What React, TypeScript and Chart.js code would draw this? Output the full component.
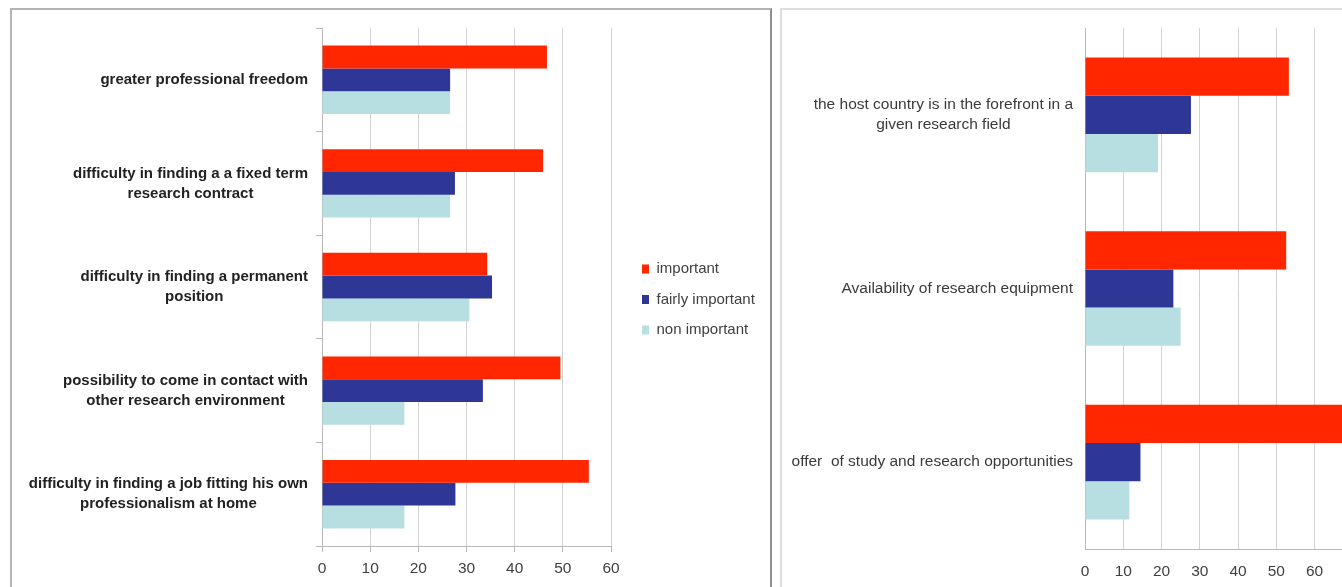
import React, { useEffect, useRef } from 'react';
import { Chart, registerables } from 'chart.js';

Chart.register(...registerables);

const FONT = "'Liberation Sans', Arial, Helvetica, sans-serif";

const seriesNames = ['important', 'fairly important', 'non important'];
const seriesColors = ['#FF2600', '#2E3696', '#B7DFE2'];

// Left chart
const leftCategories = [
  ['greater professional freedom'],
  ['difficulty in finding a a fixed term', 'research contract'],
  ['difficulty in finding a permanent', 'position'],
  ['possibility to come in contact with', 'other research environment'],
  ['difficulty in finding a job fitting his own', 'professionalism at home'],
];
const leftImportant = [46.7, 45.9, 34.3, 49.5, 55.4];
const leftFairly = [26.6, 27.6, 35.3, 33.4, 27.7];
const leftNon = [26.6, 26.6, 30.6, 17.1, 17.1];
const leftAxisMax = 60;

// Right chart
const rightCategories = [
  ['the host country is in the forefront in a', 'given research field'],
  ['Availability of research equipment'],
  ['offer  of study and research opportunities'],
];
const rightImportant = [53.3, 52.6, 72];
const rightFairly = [27.7, 23.1, 14.5];
const rightNon = [19.1, 25, 11.6];
const rightAxisMax = 80;

const tickStep = 10;

function makeDatasets(values: number[][]) {
  return values.map((v, i) => ({
    label: seriesNames[i],
    data: v,
    backgroundColor: seriesColors[i],
    borderWidth: 0,
    barPercentage: 1,
    categoryPercentage: 0.66,
  }));
}

function catLabelPlugin(font: string, color: string, lineHeight: number, gap: number) {
  return {
    id: 'catLabels',
    afterDraw(chart: any) {
      const ys = chart.scales.y;
      const ctx = chart.ctx;
      const labels = chart.data.labels as (string | string[])[];
      ctx.save();
      ctx.font = font;
      ctx.fillStyle = color;
      ctx.textAlign = 'center';
      ctx.textBaseline = 'middle';
      const right = chart.chartArea.left - gap;
      labels.forEach((lab, i) => {
        const lines = Array.isArray(lab) ? lab : [lab];
        const w = Math.max(...lines.map((l) => ctx.measureText(l).width));
        const cx = right - w / 2;
        const cy = ys.getPixelForValue(i);
        lines.forEach((l, j) => {
          ctx.fillText(l, cx, cy + (j - (lines.length - 1) / 2) * lineHeight);
        });
      });
      ctx.restore();
    },
  };
}

function legendPlacer(width: number, dx: number, dy: number) {
  return {
    id: 'legendPlacer',
    beforeLayout(chart: any) {
      const lg = chart.legend;
      if (lg && !lg.__fixed) {
        const orig = lg.fit;
        lg.fit = function () {
          orig.call(this);
          this.width = width;
        };
        lg.__fixed = true;
      }
    },
    afterLayout(chart: any) {
      const lg = chart.legend;
      if (!lg) return;
      lg.left += dx;
      lg.right += dx;
      lg.top += dy;
      lg.bottom += dy;
    },
  };
}

const W1 = 758;
const H1 = 577;
const W2 = 640;
const H2 = 577;

export default function App() {
  const ref1 = useRef<HTMLCanvasElement>(null);
  const ref2 = useRef<HTMLCanvasElement>(null);

  useEffect(() => {
    Chart.defaults.font.family = FONT;
    const c1 = new Chart(ref1.current as HTMLCanvasElement, {
      type: 'bar',
      data: {
        labels: leftCategories as any,
        datasets: makeDatasets([leftImportant, leftFairly, leftNon]) as any,
      },
      options: {
        indexAxis: 'y',
        animation: false,
        responsive: false,
        maintainAspectRatio: false,
        layout: { padding: { top: 18, left: 0, right: 0, bottom: 0 } },
        scales: {
          x: {
            min: 0,
            max: leftAxisMax,
            ticks: { stepSize: tickStep, font: { size: 15.5, family: FONT }, color: '#404040', padding: 7 },
            grid: { color: '#d2d2d2', tickLength: 6, drawTicks: true, tickColor: '#b8b8b8' },
            border: { color: '#b8b8b8' },
            afterFit(s: any) {
              s.height = 41;
            },
          },
          y: {
            ticks: { display: false },
            grid: { drawOnChartArea: false, tickLength: 6, color: '#b8b8b8', offset: true },
            border: { color: '#b8b8b8' },
            afterFit(s: any) {
              s.width = 310;
            },
          },
        },
        plugins: {
          legend: {
            position: 'right',
            labels: {
              boxWidth: 7,
              boxHeight: 9,
              padding: 15.5,
              font: { size: 15, family: FONT },
              color: '#404040',
            },
          },
          tooltip: { enabled: false },
        },
      } as any,
      plugins: [
        catLabelPlugin(`bold 15px ${FONT}`, '#222222', 20, 14) as any,
        legendPlacer(W1 - 599, 15.5, -8) as any,
      ],
    });

    const c2 = new Chart(ref2.current as HTMLCanvasElement, {
      type: 'bar',
      data: {
        labels: rightCategories as any,
        datasets: makeDatasets([rightImportant, rightFairly, rightNon]) as any,
      },
      options: {
        indexAxis: 'y',
        animation: false,
        responsive: false,
        maintainAspectRatio: false,
        layout: { padding: { top: 18, left: 0, right: 32, bottom: 0 } },
        scales: {
          x: {
            min: 0,
            max: rightAxisMax,
            ticks: { stepSize: tickStep, font: { size: 15.5, family: FONT }, color: '#404040', padding: 13 },
            grid: { color: '#d2d2d2', drawTicks: false },
            border: { color: '#b8b8b8' },
            afterFit(s: any) {
              s.height = 38;
            },
          },
          y: {
            ticks: { display: false },
            grid: { display: false },
            border: { display: true, color: '#b8b8b8' },
            afterFit(s: any) {
              s.width = 302;
            },
          },
        },
        plugins: {
          legend: { display: false },
          tooltip: { enabled: false },
        },
      } as any,
      plugins: [catLabelPlugin(`15.5px ${FONT}`, '#3a3a3a', 20, 12) as any],
    });

    return () => {
      c1.destroy();
      c2.destroy();
    };
  }, []);

  return (
    <div
      style={{
        position: 'fixed',
        left: 0,
        top: 0,
        width: 1342,
        height: 587,
        overflow: 'hidden',
        background: '#ffffff',
      }}
    >
      <div
        style={{
          position: 'absolute',
          left: 10,
          top: 8,
          width: 762,
          height: 620,
          boxSizing: 'border-box',
          borderLeft: '2px solid #b4b4b4',
          borderTop: '2px solid #b4b4b4',
          borderRight: '2px solid #8e8e8e',
        }}
      />
      <div
        style={{
          position: 'absolute',
          left: 780,
          top: 8,
          width: 700,
          height: 620,
          boxSizing: 'border-box',
          borderLeft: '2px solid #dedede',
          borderTop: '2px solid #dedede',
        }}
      />
      <canvas
        ref={ref1}
        width={W1}
        height={H1}
        style={{ position: 'absolute', left: 12, top: 10, width: W1, height: H1 }}
      />
      <canvas
        ref={ref2}
        width={W2}
        height={H2}
        style={{ position: 'absolute', left: 783, top: 10, width: W2, height: H2 }}
      />
    </div>
  );
}
